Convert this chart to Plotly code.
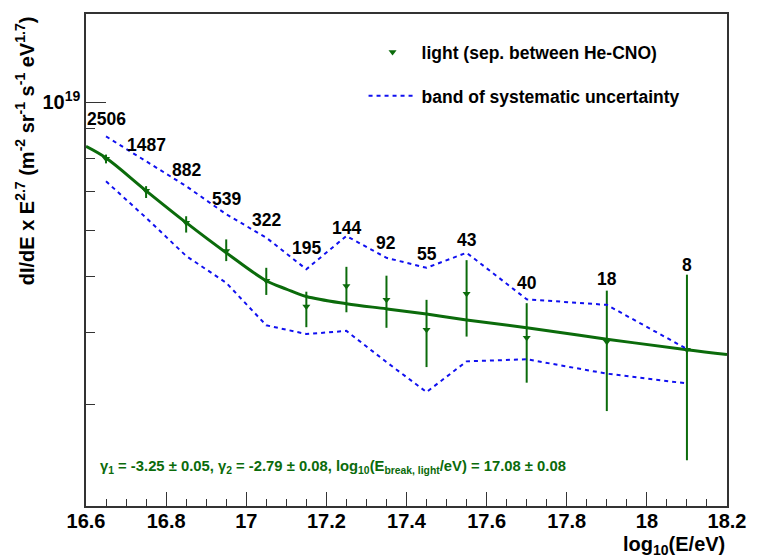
import math

import plotly.graph_objects as go

# log10(E/eV) bin centres
log_e = [16.65, 16.75, 16.85, 16.95, 17.05, 17.15, 17.25, 17.35, 17.45, 17.55, 17.7, 17.9, 18.1]
# dI/dE x E^2.7 (m^-2 sr^-1 s^-1 eV^1.7), light component
flux = [7.99e18, 7.03e18, 6.19e18, 5.53e18, 4.91e18, 4.43e18, 4.81e18, 4.55e18, 4.04e18,
        4.66e18, 3.91e18, 3.85e18, 3.73e18]
flux_hi = [8.12e18, 7.16e18, 6.35e18, 5.79e18, 5.17e18, 4.70e18, 5.19e18, 5.01e18, 4.55e18,
           5.33e18, 4.49e18, 4.72e18, 5.03e18]
flux_lo = [7.84e18, 6.83e18, 5.95e18, 5.31e18, 4.64e18, 4.08e18, 4.33e18, 4.07e18, 3.48e18,
           3.93e18, 3.27e18, 2.92e18, 2.40e18]
# systematic band
sys_up = [8.73e18, 7.90e18, 7.16e18, 6.40e18, 5.83e18, 5.14e18, 5.87e18, 5.38e18, 5.17e18,
          5.49e18, 4.56e18, 4.46e18, 3.74e18]
sys_down = [7.30e18, 6.31e18, 5.42e18, 4.87e18, 4.11e18, 3.97e18, 4.02e18, 3.55e18, 3.15e18,
            3.56e18, 3.59e18, 3.39e18, 3.26e18]
# event counts per bin
counts = [2506, 1487, 882, 539, 322, 195, 144, 92, 55, 43, 40, 18, 8]
count_label_y = [9.36e18, 8.42e18, 7.65e18, 6.79e18, 6.25e18, 5.60e18, 6.07e18, 5.71e18, 5.47e18,
                 5.78e18, 4.86e18, 4.95e18, 5.23e18]
# broken power-law fit
fit_x = [16.6, 16.65, 16.75, 16.85, 16.95, 17.05, 17.1, 17.15, 17.25, 17.35, 17.45, 17.55, 17.7, 17.9, 18.1, 18.2]
fit_y = [8.39e18, 8.01e18, 7.03e18, 6.19e18, 5.49e18, 4.91e18, 4.75e18, 4.61e18, 4.48e18, 4.39e18,
         4.30e18, 4.20e18, 4.07e18, 3.89e18, 3.73e18, 3.66e18]

x_ticks = [16.6, 16.8, 17.0, 17.2, 17.4, 17.6, 17.8, 18.0, 18.2]
x_ticktext = ["16.6", "16.8", "17", "17.2", "17.4", "17.6", "17.8", "18", "18.2"]

GREEN = "#0b6b0b"
BLUE = "#1010f0"
FONT = "Liberation Sans"

fig = go.Figure()

fig.add_trace(go.Scatter(
    x=fit_x, y=fit_y, mode="lines", line=dict(color=GREEN, width=3, shape="spline"),
    showlegend=False, hoverinfo="skip",
))
fig.add_trace(go.Scatter(
    x=log_e, y=flux, mode="markers", name="light (sep. between He-CNO)",
    marker=dict(symbol="triangle-down", size=7, color=GREEN),
    error_y=dict(type="data", symmetric=False,
                 array=[h - v for h, v in zip(flux_hi, flux)],
                 arrayminus=[v - l for v, l in zip(flux, flux_lo)],
                 color=GREEN, thickness=2, width=0),
    legendgroup="a",
))
fig.add_trace(go.Scatter(
    x=log_e, y=sys_up, mode="lines", name="band of systematic uncertainty",
    line=dict(color=BLUE, width=2, dash="4px,4px"), legendgroup="b",
))
fig.add_trace(go.Scatter(
    x=log_e, y=sys_down, mode="lines", showlegend=False,
    line=dict(color=BLUE, width=2, dash="4px,4px"), legendgroup="b",
))

# event counts (annotation y on a log axis is given in log10)
for xv, yv, n in zip(log_e, count_label_y, counts):
    fig.add_annotation(x=xv, y=math.log10(yv), xref="x", yref="y", text=f"<b>{n}</b>",
                       showarrow=False, font=dict(family=FONT, size=17.5, color="black"))

fig.add_annotation(
    xref="paper", yref="paper", x=0.0185, y=0.079, xanchor="left", yanchor="middle",
    text="<b>γ<sub>1</sub> = -3.25 ± 0.05, γ<sub>2</sub> = -2.79 ± 0.08, "
         "log<sub>10</sub>(E<sub>break, light</sub>/eV) = 17.08 ± 0.08</b>",
    showarrow=False, font=dict(family=FONT, size=14.8, color=GREEN),
)
fig.add_annotation(
    xref="paper", yref="paper", x=1.0, y=-0.08, xanchor="right", yanchor="middle",
    text="<b>log<sub>10</sub>(E/eV)</b>", showarrow=False,
    font=dict(family=FONT, size=20, color="black"),
)
fig.add_annotation(
    xref="paper", yref="paper", x=-0.0955, y=1.0, xanchor="center", yanchor="top",
    textangle=-90,
    text="<b>dI/dE x E<sup>2.7</sup> (m<sup>-2</sup> sr<sup>-1</sup> s<sup>-1</sup> eV<sup>1.7</sup>)</b>",
    showarrow=False, font=dict(family=FONT, size=20, color="black"),
)

fig.update_xaxes(
    range=[16.6, 18.2], tickvals=x_ticks, ticktext=x_ticktext, ticks="inside", ticklen=14,
    tickwidth=1, tickcolor="#333", showline=True, linecolor="#333", linewidth=1.5, mirror=True,
    showgrid=False, zeroline=False, ticklabelstandoff=-4,
    tickfont=dict(family=FONT, size=20, color="black", weight="bold"),
    minor=dict(ticks="inside", ticklen=7, dtick=0.05, tick0=16.6, tickcolor="#333", showgrid=False),
)
fig.update_yaxes(
    type="log", range=[18.301, 19.153], tickvals=[1e19], ticktext=["10<sup>19</sup>"],
    ticks="inside", ticklen=20, tickwidth=1, tickcolor="#333",
    showline=True, linecolor="#333", linewidth=1.5, mirror=True, showgrid=False, zeroline=False,
    tickfont=dict(family=FONT, size=20, color="black", weight="bold"),
    minor=dict(ticks="inside", ticklen=9, tickcolor="#333", showgrid=False,
               tickvals=[3e18, 4e18, 5e18, 6e18, 7e18, 8e18, 9e18]),
)

fig.update_layout(
    width=758, height=557,
    margin=dict(l=86, r=23, t=12, b=51),
    paper_bgcolor="white", plot_bgcolor="white",
    legend=dict(x=0.433, y=0.959, xanchor="left", yanchor="top", bgcolor="rgba(0,0,0,0)",
                font=dict(family=FONT, size=17.5, color="black", weight="bold"),
                tracegroupgap=18, itemwidth=48),
    font=dict(family=FONT),
)

fig.write_html("out.html", config={"displayModeBar": False},
               post_script="document.body.style.margin='0';")
